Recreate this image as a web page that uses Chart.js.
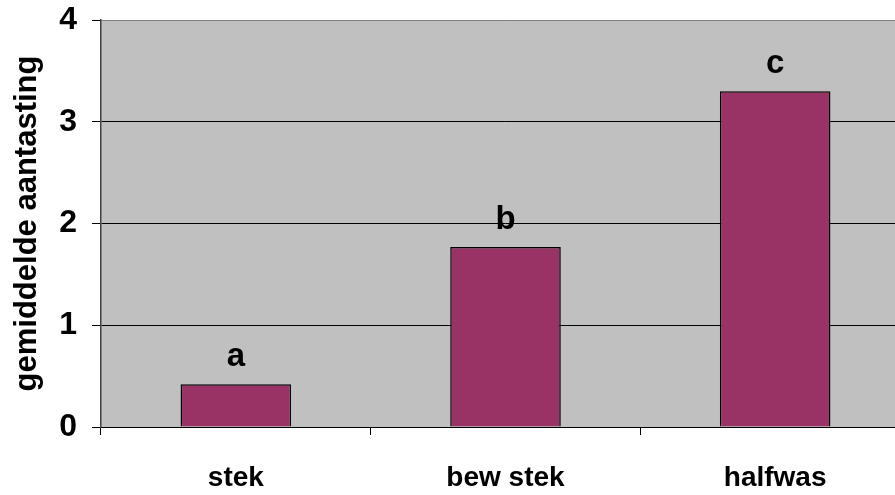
<!DOCTYPE html>
<html>
<head>
<meta charset="utf-8">
<script src="https://cdn.jsdelivr.net/npm/chart.js@4.4.1/dist/chart.umd.min.js"></script>
<style>
html,body{margin:0;padding:0;background:#fff;overflow:hidden;}
#wrap{width:895px;height:495px;overflow:hidden;position:relative;}
#c{position:absolute;left:0;top:0;}
</style>
</head>
<body>
<div id="wrap"><canvas id="c" width="910" height="495"></canvas></div>
<script>
const categories = ["stek", "bew stek", "halfwas"];
const values = [0.42, 1.77, 3.30];
const letters = ["a", "b", "c"];
const yTicks = [0, 1, 2, 3, 4];
const yTitle = "gemiddelde aantasting";

const FONT = "'Liberation Sans', Arial, sans-serif";

const bgPlugin = {
  id: 'bg',
  beforeDraw(chart) {
    const {ctx, chartArea: a} = chart;
    ctx.save();
    ctx.fillStyle = '#C0C0C0';
    ctx.fillRect(a.left, a.top, a.right - a.left, a.bottom - a.top);
    ctx.restore();
  }
};

const letterPlugin = {
  id: 'letters',
  afterDatasetsDraw(chart) {
    const {ctx} = chart;
    const meta = chart.getDatasetMeta(0);
    ctx.save();
    ctx.fillStyle = '#000';
    ctx.font = "bold 33px " + FONT;
    ctx.textAlign = 'center';
    ctx.textBaseline = 'alphabetic';
    meta.data.forEach((bar, i) => {
      ctx.fillText(letters[i], bar.x, bar.y - 18);
    });
    ctx.restore();
  }
};

new Chart(document.getElementById('c'), {
  type: 'bar',
  data: {
    labels: categories,
    datasets: [{
      data: values,
      backgroundColor: '#993366',
      borderColor: '#000000',
      borderWidth: 1.5,
      barPercentage: 0.41,
      categoryPercentage: 1.0
    }]
  },
  options: {
    responsive: false,
    animation: false,
    devicePixelRatio: 1,
    layout: {padding: {top: 20, right: 0, bottom: 0, left: 0}},
    plugins: {
      legend: {display: false},
      tooltip: {enabled: false}
    },
    scales: {
      x: {
        offset: true,
        afterFit(scale) { scale.height = 68; scale.paddingLeft = 0; scale.paddingRight = 0; },
        grid: {
          display: true,
          drawOnChartArea: false,
          drawTicks: true,
          tickLength: 8,
          color: '#000',
          offset: true
        },
        border: {display: true, color: '#000', width: 1},
        ticks: {
          color: '#000',
          font: {family: FONT, size: 28, weight: 'bold'},
          padding: 26
        }
      },
      y: {
        min: 0,
        max: 4,
        afterFit(scale) { scale.width = 101; scale.paddingTop = 0; scale.paddingBottom = 0; },
        afterBuildTicks(scale) { scale.ticks = yTicks.map(v => ({value: v})); },
        grid: {
          color: (c) => c.tick && c.tick.value === 4 ? '#808080' : '#000',
          lineWidth: 1,
          tickLength: 9,
          tickColor: '#000'
        },
        border: {display: true, color: '#404040', width: 1.5},
        ticks: {
          color: '#000',
          font: {family: FONT, size: 32, weight: 'bold'},
          padding: 15
        },
        title: {
          display: true,
          text: yTitle,
          color: '#000',
          font: {family: FONT, size: 31, weight: 'bold'},
          padding: {top: 9, bottom: 0}
        }
      }
    }
  },
  plugins: [bgPlugin, letterPlugin]
});
</script>
</body>
</html>
